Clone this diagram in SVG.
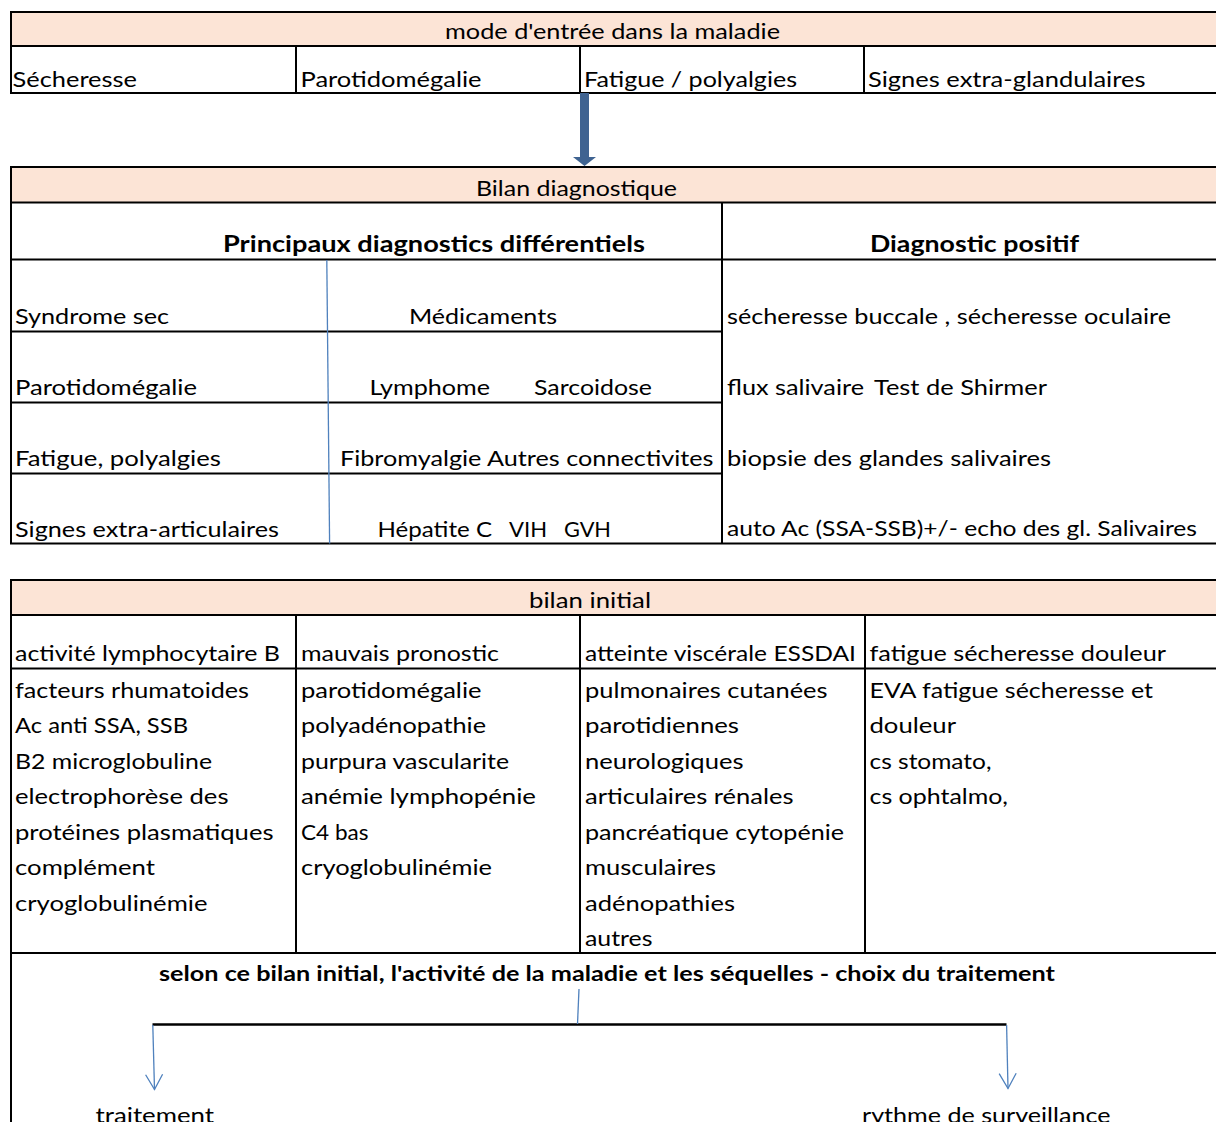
<svg xmlns="http://www.w3.org/2000/svg" width="1216" height="1122" viewBox="0 0 1216 1122">
<defs>
<style>
.t{font-family:Lato,"Open Sans","Liberation Sans",sans-serif;font-size:22px;fill:#000}
.b{font-weight:bold}
.s{font-size:20px}
.ln{stroke:#000;stroke-width:2;fill:none}
.hd{fill:#FCE4D6}
.bl{stroke:#4F81BD;stroke-width:1.3;fill:none}
</style>
<marker id="v" viewBox="-17 -10 19 20" refX="0" refY="0" markerWidth="19" markerHeight="20" markerUnits="userSpaceOnUse" orient="auto">
<path d="M-15,-8.5 L0,0 L-15,8.5" fill="none" stroke="#4F81BD" stroke-width="1.3"/>
</marker>
</defs>
<rect width="1216" height="1122" fill="#fff"/>

<g id="mode-entree">
<rect class="hd" x="11" y="12" width="1205" height="34"/>
<path class="ln" d="M10,12H1216M10,46H1216M10,93H1216M11,12V93M296,46V93M580,46V93M864,46V93"/>
<text class="t" x="445" y="39" textLength="335" lengthAdjust="spacingAndGlyphs">mode d'entrée dans la maladie</text>
<text class="t" x="12.5" y="86.5" textLength="124.5" lengthAdjust="spacingAndGlyphs">Sécheresse</text>
<text class="t" x="300.5" y="86.5" textLength="181" lengthAdjust="spacingAndGlyphs">Parotidomégalie</text>
<text class="t" x="584" y="86.5" textLength="213" lengthAdjust="spacingAndGlyphs">Fatigue / polyalgies</text>
<text class="t" x="868" y="86.5" textLength="277.5" lengthAdjust="spacingAndGlyphs">Signes extra-glandulaires</text>
</g>

<g id="bilan-diagnostique">
<rect class="hd" x="11" y="167" width="1205" height="35.5"/>
<path class="ln" d="M10,167H1216M10,202.5H1216M10,259.5H1216M11,167V544M722,202.5V544M11,331.5H722M11,402.5H722M11,473.5H722M10,543.5H1216"/>
<text class="t" x="476" y="196" textLength="201" lengthAdjust="spacingAndGlyphs">Bilan diagnostique</text>
<text class="t b" x="223" y="252" textLength="422" lengthAdjust="spacingAndGlyphs">Principaux diagnostics différentiels</text>
<text class="t b" x="870" y="252" textLength="209" lengthAdjust="spacingAndGlyphs">Diagnostic positif</text>
<text class="t" x="15" y="324" textLength="154" lengthAdjust="spacingAndGlyphs">Syndrome sec</text>
<text class="t" x="15" y="395" textLength="182" lengthAdjust="spacingAndGlyphs">Parotidomégalie</text>
<text class="t" x="15" y="466" textLength="206" lengthAdjust="spacingAndGlyphs">Fatigue, polyalgies</text>
<text class="t" x="15" y="537" textLength="264" lengthAdjust="spacingAndGlyphs">Signes extra-articulaires</text>
<text class="t" x="409" y="324" textLength="148" lengthAdjust="spacingAndGlyphs">Médicaments</text>
<text class="t" y="395"><tspan x="369.5" textLength="120.5" lengthAdjust="spacingAndGlyphs">Lymphome</tspan><tspan x="534" textLength="118" lengthAdjust="spacingAndGlyphs">Sarcoidose</tspan></text>
<text class="t" x="340" y="466" textLength="373.5" lengthAdjust="spacingAndGlyphs">Fibromyalgie Autres connectivites</text>
<text class="t" y="537"><tspan x="377.5" textLength="114.5" lengthAdjust="spacingAndGlyphs">Hépatite C</tspan><tspan x="509" textLength="38" lengthAdjust="spacingAndGlyphs">VIH</tspan><tspan x="564" textLength="47" lengthAdjust="spacingAndGlyphs">GVH</tspan></text>
<text class="t" x="727" y="323.5" textLength="444" lengthAdjust="spacingAndGlyphs">sécheresse buccale , sécheresse oculaire</text>
<text class="t" y="394.5"><tspan x="727" textLength="137" lengthAdjust="spacingAndGlyphs">flux salivaire</tspan><tspan x="874" textLength="173" lengthAdjust="spacingAndGlyphs">Test de Shirmer</tspan></text>
<text class="t" x="727" y="465.5" textLength="324" lengthAdjust="spacingAndGlyphs">biopsie des glandes salivaires</text>
<text class="t" x="727" y="536" textLength="470" lengthAdjust="spacingAndGlyphs">auto Ac (SSA-SSB)+/- echo des gl. Salivaires</text>
</g>

<g id="bilan-initial">
<rect class="hd" x="11" y="580" width="1205" height="35"/>
<path class="ln" d="M10,580H1216M10,615H1216M10,668.5H1216M10,953H1216M11,580V1122M296,615V953M580,615V953M865,615V953"/>
<text class="t" x="529" y="608" textLength="122" lengthAdjust="spacingAndGlyphs">bilan initial</text>
<text class="t" x="15" y="660.5" textLength="265" lengthAdjust="spacingAndGlyphs">activité lymphocytaire B</text>
<text class="t" x="301" y="660.5" textLength="198" lengthAdjust="spacingAndGlyphs">mauvais pronostic</text>
<text class="t" x="585" y="660.5" textLength="271" lengthAdjust="spacingAndGlyphs">atteinte viscérale ESSDAI</text>
<text class="t" x="869.5" y="660.5" textLength="296.5" lengthAdjust="spacingAndGlyphs">fatigue sécheresse douleur</text>
<text class="t" x="15" y="697.5" textLength="234" lengthAdjust="spacingAndGlyphs">facteurs rhumatoides</text>
<text class="t" x="15" y="733" textLength="173" lengthAdjust="spacingAndGlyphs">Ac anti SSA, SSB</text>
<text class="t" x="15" y="768.5" textLength="197" lengthAdjust="spacingAndGlyphs">B2 microglobuline</text>
<text class="t" x="15" y="804" textLength="213.5" lengthAdjust="spacingAndGlyphs">electrophorèse des</text>
<text class="t" x="15" y="839.5" textLength="258.5" lengthAdjust="spacingAndGlyphs">protéines plasmatiques</text>
<text class="t" x="15" y="875" textLength="140" lengthAdjust="spacingAndGlyphs">complément</text>
<text class="t" x="15" y="910.5" textLength="192.5" lengthAdjust="spacingAndGlyphs">cryoglobulinémie</text>
<text class="t" x="301" y="697.5" textLength="180.5" lengthAdjust="spacingAndGlyphs">parotidomégalie</text>
<text class="t" x="301" y="733" textLength="185" lengthAdjust="spacingAndGlyphs">polyadénopathie</text>
<text class="t" x="301" y="768.5" textLength="208" lengthAdjust="spacingAndGlyphs">purpura vascularite</text>
<text class="t" x="301" y="804" textLength="235" lengthAdjust="spacingAndGlyphs">anémie lymphopénie</text>
<text class="t" x="301" y="839.5" textLength="67.5" lengthAdjust="spacingAndGlyphs">C4 bas</text>
<text class="t" x="301" y="875" textLength="191" lengthAdjust="spacingAndGlyphs">cryoglobulinémie</text>
<text class="t" x="585" y="697.5" textLength="242.5" lengthAdjust="spacingAndGlyphs">pulmonaires cutanées</text>
<text class="t" x="585" y="733" textLength="154" lengthAdjust="spacingAndGlyphs">parotidiennes</text>
<text class="t" x="585" y="768.5" textLength="158.5" lengthAdjust="spacingAndGlyphs">neurologiques</text>
<text class="t" x="585" y="804" textLength="208.5" lengthAdjust="spacingAndGlyphs">articulaires rénales</text>
<text class="t" x="585" y="839.5" textLength="259" lengthAdjust="spacingAndGlyphs">pancréatique cytopénie</text>
<text class="t" x="585" y="875" textLength="131" lengthAdjust="spacingAndGlyphs">musculaires</text>
<text class="t" x="585" y="910.5" textLength="150" lengthAdjust="spacingAndGlyphs">adénopathies</text>
<text class="t" x="585" y="946" textLength="67.5" lengthAdjust="spacingAndGlyphs">autres</text>
<text class="t" x="869.5" y="697.5" textLength="283.5" lengthAdjust="spacingAndGlyphs">EVA fatigue sécheresse et</text>
<text class="t" x="869.5" y="733" textLength="86.5" lengthAdjust="spacingAndGlyphs">douleur</text>
<text class="t" x="869.5" y="768.5" textLength="122" lengthAdjust="spacingAndGlyphs">cs stomato,</text>
<text class="t" x="869.5" y="804" textLength="138.5" lengthAdjust="spacingAndGlyphs">cs ophtalmo,</text>
</g>

<g id="choix-traitement">
<text class="t b s" x="159" y="981" textLength="896" lengthAdjust="spacingAndGlyphs">selon ce bilan initial, l'activité de la maladie et les séquelles - choix du traitement</text>
<path d="M152.5,1024.5H1006.5" stroke="#000" stroke-width="2.5"/>
</g>
<g id="traitement">
<text class="t" x="95.5" y="1123" textLength="118.5" lengthAdjust="spacingAndGlyphs">traitement</text>
</g>
<g id="surveillance">
<text class="t" x="862" y="1123" textLength="248.5" lengthAdjust="spacingAndGlyphs">rythme de surveillance</text>
</g>

<g id="connectors">
<path d="M580,93H589V157H596L584.5,166L573,157H580Z" fill="#3F6391"/>
<path class="bl" d="M326.8,260L329.6,543.5"/>
<path class="bl" d="M579,989L577.5,1024"/>
<path class="bl" d="M152.8,1025L154.5,1089.5" marker-end="url(#v)"/>
<path class="bl" d="M1006.6,1025L1008,1088.5" marker-end="url(#v)"/>
</g>
</svg>
